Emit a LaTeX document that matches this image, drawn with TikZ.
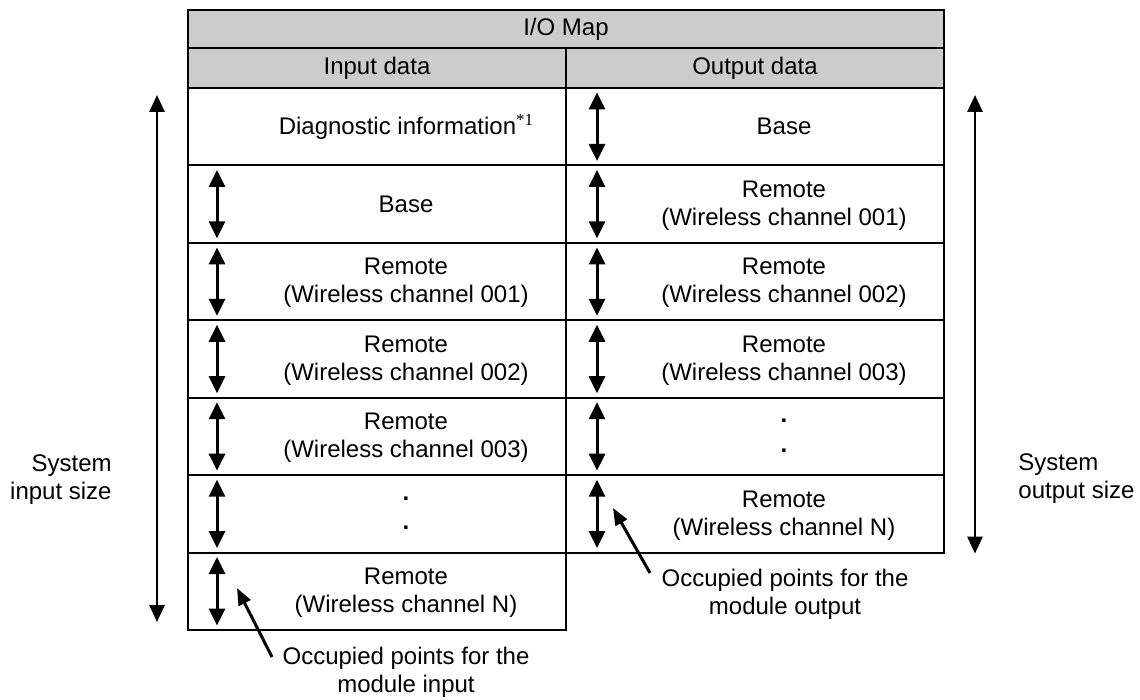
\documentclass[tikz,border=0pt]{standalone}
\usepackage{fontspec}
\setmainfont{Liberation Sans}
\newfontfamily\supfont{Liberation Serif}
\usetikzlibrary{arrows.meta}
\definecolor{hdrgray}{RGB}{204,204,204}
\begin{document}
\begin{tikzpicture}[x=0.5pt,y=-0.5pt,
  every node/.style={font=\fontsize{12}{14}\selectfont, inner sep=0pt},
  cell/.style={draw, line width=1pt, minimum width=189pt, minimum height=38.715pt, anchor=north west},
  hdrcell/.style={cell, fill=hdrgray},
  lbl/.style={align=center},
  dotlbl/.style={anchor=base, font=\fontsize{12}{14}\selectfont\bfseries},
  dbl/.style={line width=1.5pt, {Triangle[width=8pt,length=8.5pt]}-{Triangle[width=8pt,length=8.5pt]}},
  bigarr/.style={line width=1.4pt, {Triangle[width=7.5pt,length=8.5pt]}-{Triangle[width=7.5pt,length=8.5pt]}},
  ptr/.style={line width=1.5pt, -{Triangle[width=6.5pt,length=8.5pt]}}
]
\useasboundingbox (0,0) rectangle (1140,700);

% header
\node[hdrcell, minimum width=378pt, minimum height=19pt] (map) at (187,9) {I/O Map};
\node[hdrcell, minimum height=20pt] (inh) at (187,47) {Input data};
\node[hdrcell, minimum height=20pt] (outh) at (565,47) {Output data};

% left column cells
\node[cell] (L1) at (187,87) {};
\node[cell] (L2) at (187,164.43) {};
\node[cell] (L3) at (187,241.86) {};
\node[cell] (L4) at (187,319.29) {};
\node[cell] (L5) at (187,396.71) {};
\node[cell] (L6) at (187,474.14) {};
\node[cell] (L7) at (187,551.57) {};

% right column cells
\node[cell] (R1) at (565,87) {};
\node[cell] (R2) at (565,164.43) {};
\node[cell] (R3) at (565,241.86) {};
\node[cell] (R4) at (565,319.29) {};
\node[cell] (R5) at (565,396.71) {};
\node[cell] (R6) at (565,474.14) {};

% left labels
\node[lbl] (tL1) at ([xshift=14.5pt]L1.center) {Diagnostic information\raisebox{4.2pt}{\supfont\fontsize{8.5}{9}\selectfont *1}};
\node[lbl] (tL2) at ([xshift=14.5pt]L2.center) {Base};
\node[lbl] (tL3) at ([xshift=14.5pt,yshift=-0.8pt]L3.center) {Remote\\(Wireless channel 001)};
\node[lbl] (tL4) at ([xshift=14.5pt,yshift=-0.8pt]L4.center) {Remote\\(Wireless channel 002)};
\node[lbl] (tL5) at ([xshift=14.5pt,yshift=-0.8pt]L5.center) {Remote\\(Wireless channel 003)};
\node[dotlbl] (tL6a) at ([xshift=14.5pt,yshift=6.9pt]L6.center) {.};
\node[dotlbl] (tL6b) at ([xshift=14.5pt,yshift=-7.9pt]L6.center) {.};
\node[lbl] (tL7) at ([xshift=14.5pt,yshift=-0.8pt]L7.center) {Remote\\(Wireless channel N)};

% right labels
\node[lbl] (tR1) at ([xshift=14.5pt]R1.center) {Base};
\node[lbl] (tR2) at ([xshift=14.5pt,yshift=-0.8pt]R2.center) {Remote\\(Wireless channel 001)};
\node[lbl] (tR3) at ([xshift=14.5pt,yshift=-0.8pt]R3.center) {Remote\\(Wireless channel 002)};
\node[lbl] (tR4) at ([xshift=14.5pt,yshift=-0.8pt]R4.center) {Remote\\(Wireless channel 003)};
\node[dotlbl] (tR5a) at ([xshift=14.5pt,yshift=6.9pt]R5.center) {.};
\node[dotlbl] (tR5b) at ([xshift=14.5pt,yshift=-7.9pt]R5.center) {.};
\node[lbl] (tR6) at ([xshift=14.5pt,yshift=-0.8pt]R6.center) {Remote\\(Wireless channel N)};

% small double arrows
\foreach \c in {L2,L3,L4,L5,L6,L7}
  \draw[dbl] ([xshift=15pt,yshift=-2.75pt]\c.north west) -- ([xshift=15pt,yshift=2.75pt]\c.south west);
\foreach \c in {R1,R2,R3,R4,R5,R6}
  \draw[dbl] ([xshift=16pt,yshift=-2.75pt]\c.north west) -- ([xshift=16pt,yshift=2.75pt]\c.south west);

% system size arrows
\draw[bigarr] ([xshift=-15pt,yshift=-4pt]L1.north west) -- ([xshift=-15pt,yshift=4.5pt]L7.south west);
\draw[bigarr] ([xshift=15pt,yshift=-4pt]R1.north east) -- ([xshift=15pt]R6.south east);
\node[align=right, anchor=east] (sin) at (112,480) {System\\input size};
\node[align=left, anchor=west] (sout) at (1018,479) {System\\output size};

% pointers
\node[lbl] (pin) at (406,672) {Occupied points for the\\module input};
\node[lbl] (pout) at (785,594) {Occupied points for the\\module output};
\coordinate (pinTail) at (272,657);
\coordinate (pinTip) at (237,588);
\coordinate (poutTail) at (650,573);
\coordinate (poutTip) at (613,508);
\draw[ptr] (pinTail) -- (pinTip);
\draw[ptr] (poutTail) -- (poutTip);
\end{tikzpicture}
\end{document}
